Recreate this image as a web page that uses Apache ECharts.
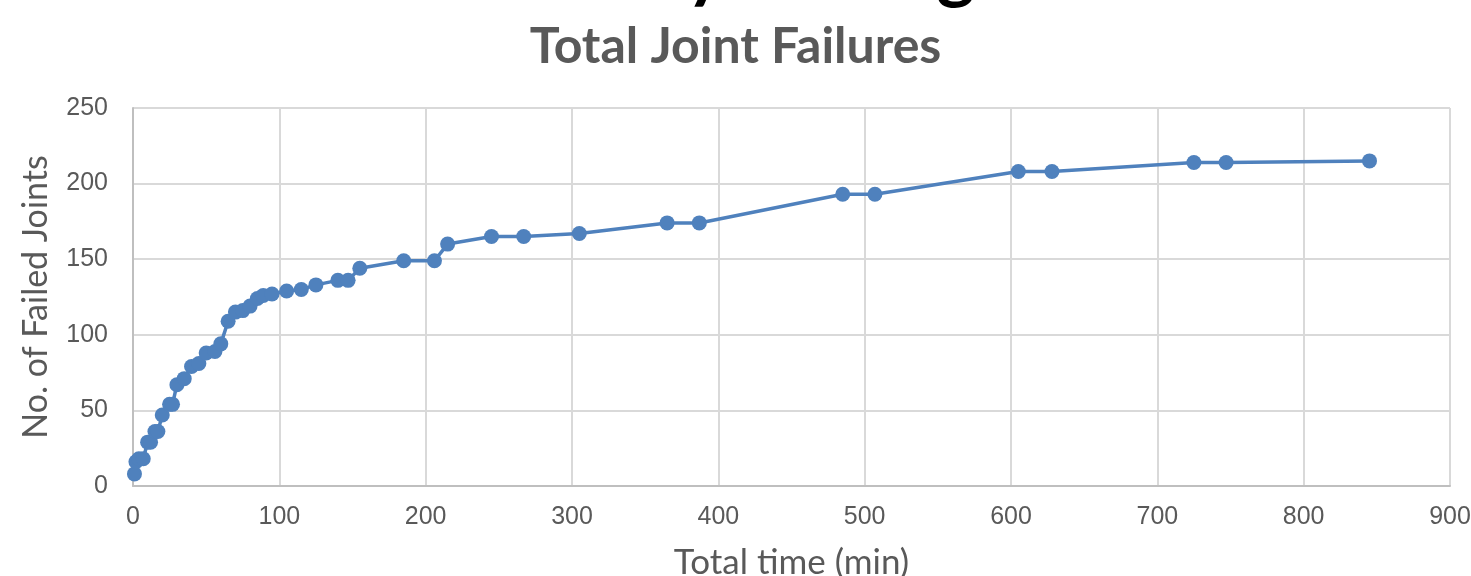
<!DOCTYPE html>
<html>
<head>
<meta charset="utf-8">
<script src="https://cdn.jsdelivr.net/npm/echarts@6/dist/echarts.min.js"></script>
<style>
  html, body { margin: 0; padding: 0; background: #ffffff; overflow: hidden; }
  #chart { width: 1471px; height: 576px; }
</style>
</head>
<body>
<div id="chart"></div>
<script>
// Cumulative joint failures against total test time
const times    = [1, 2, 4, 7, 10, 12, 15, 17, 20, 25, 27, 30, 35, 40, 45, 50, 56, 60, 65, 70, 75, 80, 85, 89, 95,
                  105, 115, 125, 140, 147, 155, 185, 206, 215, 245, 267, 305, 365, 387, 485, 507, 605, 628, 725, 747, 845];
const failures = [8, 16, 18, 18, 29, 29, 36, 36, 47, 54, 54, 67, 71, 79, 81, 88, 89, 94, 109, 115, 116, 119, 124, 126, 127,
                  129, 130, 133, 136, 136, 144, 149, 149, 160, 165, 165, 167, 174, 174, 193, 193, 208, 208, 214, 214, 215];
const xTicks = [0, 100, 200, 300, 400, 500, 600, 700, 800, 900];
const yTicks = [0, 50, 100, 150, 200, 250];

const points = times.map((t, i) => [t, failures[i]]);

const chart = echarts.init(document.getElementById('chart'), null, { renderer: 'canvas' });

chart.setOption({
  backgroundColor: '#ffffff',
  animation: false,
  title: {
    text: 'Total Joint Failures',
    left: 'center',
    top: 17,
    textStyle: { fontFamily: 'Lato', fontWeight: 'bold', fontSize: 50, color: '#595959', lineHeight: 50 }
  },
  graphic: [{
    type: 'text',
    left: 405,
    top: -66,
    style: {
      text: 'Reliability Testing',
      font: 'bold 73px Lato',
      fill: '#000000'
    }
  }],
  grid: { left: 133, right: 21, top: 108, bottom: 90, containLabel: false, outerBoundsMode: 'none' },
  xAxis: {
    type: 'value',
    min: xTicks[0],
    max: xTicks[xTicks.length - 1],
    interval: xTicks[1] - xTicks[0],
    name: 'Total time (min)',
    nameLocation: 'middle',
    nameGap: 59,
    nameTextStyle: { fontFamily: 'Lato', fontSize: 35, color: '#595959' },
    axisLine: { show: true, lineStyle: { color: '#bfbfbf', width: 2 } },
    axisTick: { show: false },
    axisLabel: { fontFamily: 'Liberation Sans', fontSize: 25, color: '#595959', margin: 19 },
    splitLine: { show: true, lineStyle: { color: '#d9d9d9', width: 2 } }
  },
  yAxis: {
    type: 'value',
    min: yTicks[0],
    max: yTicks[yTicks.length - 1],
    interval: yTicks[1] - yTicks[0],
    name: 'No. of Failed Joints',
    nameLocation: 'middle',
    nameRotate: 90,
    nameGap: 80,
    nameTextStyle: { fontFamily: 'Lato', fontSize: 34, color: '#595959' },
    axisLine: { show: true, lineStyle: { color: '#bfbfbf', width: 2 } },
    axisTick: { show: false },
    axisLabel: { fontFamily: 'Liberation Sans', fontSize: 25, color: '#595959', margin: 25 },
    splitLine: { show: true, lineStyle: { color: '#d9d9d9', width: 2 } }
  },
  series: [{
    type: 'line',
    data: points,
    symbol: 'circle',
    symbolSize: 15,
    itemStyle: { color: '#4f81bd' },
    lineStyle: { color: '#4f81bd', width: 3.5 }
  }]
});
</script>
</body>
</html>
